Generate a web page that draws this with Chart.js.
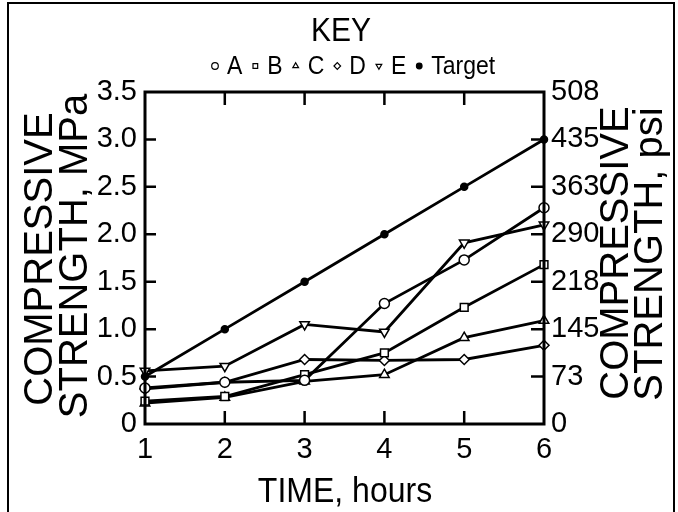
<!DOCTYPE html>
<html>
<head>
<meta charset="utf-8">
<script src="https://cdn.jsdelivr.net/npm/chart.js@4.4.1/dist/chart.umd.min.js"></script>
<style>
  html, body { margin: 0; padding: 0; background: #fff; overflow: hidden; }
  #wrap { position: relative; width: 678px; height: 512px; }
  #frame { position: absolute; left: 7px; top: 2px; width: 668px; height: 530px; border: 2px solid #000; box-sizing: border-box; }
  canvas { position: absolute; left: 0; top: 0; }
</style>
</head>
<body>
<div id="wrap">
  <div id="frame"></div>
  <canvas id="c" width="678" height="512"></canvas>
</div>
<script>
// ---- data ----
const hours = [1, 2, 3, 4, 5, 6];
const seriesA = [0.38, 0.44, 0.46, 1.27, 1.73, 2.28];
const seriesB = [0.24, 0.29, 0.52, 0.75, 1.23, 1.68];
const seriesC = [0.22, 0.28, 0.45, 0.52, 0.91, 1.09];
const seriesD = [0.37, 0.44, 0.68, 0.67, 0.68, 0.83];
const seriesE = [0.56, 0.61, 1.05, 0.97, 1.91, 2.10];
const seriesTarget = [0.5, 1.0, 1.5, 2.0, 2.5, 3.0];
const mpaTickLabels = ['0', '0.5', '1.0', '1.5', '2.0', '2.5', '3.0', '3.5'];
const psiTickLabels = ['0', '73', '145', '218', '290', '363', '435', '508'];
const seriesNames = ['A', 'B', 'C', 'D', 'E', 'Target'];

const FONT = "'Liberation Sans', Arial, sans-serif";
const NARROW = "'Liberation Sans Narrow', 'Arial Narrow', 'Liberation Sans', sans-serif";
Chart.defaults.font.family = FONT;
Chart.defaults.color = '#000';

function pts(vals) { return hours.map((h, i) => ({ x: h, y: vals[i] })); }

const styles = [
  { style: 'circle', rot: 0, fill: '#fff', r: 5 },
  { style: 'rect', rot: 0, fill: '#fff', r: 5.5 },
  { style: 'triangle', rot: 0, fill: '#fff', r: 5.5 },
  { style: 'rectRot', rot: 0, fill: '#fff', r: 5 },
  { style: 'triangle', rot: 180, fill: '#fff', r: 5.5 },
  { style: 'circle', rot: 0, fill: '#000', r: 3.5 }
];
const allSeries = [seriesA, seriesB, seriesC, seriesD, seriesE, seriesTarget];

const datasets = allSeries.map((s, i) => ({
  label: seriesNames[i],
  data: pts(s),
  borderColor: '#000',
  borderWidth: 2.8,
  backgroundColor: styles[i].fill,
  pointStyle: styles[i].style,
  rotation: styles[i].rot,
  pointRadius: styles[i].r,
  pointBorderWidth: 1.5,
  pointBorderColor: '#000',
  pointBackgroundColor: styles[i].fill,
  tension: 0,
  yAxisID: 'y',
  clip: false
}));

const deco = {
  id: 'deco',
  afterDraw(chart) {
    const ctx = chart.ctx;
    const a = chart.chartArea;
    const xs = chart.scales.x, ys = chart.scales.y;
    ctx.save();
    ctx.strokeStyle = '#000';
    ctx.fillStyle = '#000';
    // plot frame
    ctx.lineWidth = 3;
    ctx.strokeRect(a.left, a.top, a.right - a.left, a.bottom - a.top);
    // inward tick marks
    ctx.lineWidth = 2.5;
    ctx.beginPath();
    xs.ticks.forEach(t => {
      if (t.value <= xs.min || t.value >= xs.max) return;
      const px = xs.getPixelForValue(t.value);
      ctx.moveTo(px, a.bottom); ctx.lineTo(px, a.bottom - 13);
      ctx.moveTo(px, a.top); ctx.lineTo(px, a.top + 13);
    });
    ys.ticks.forEach(t => {
      if (t.value <= ys.min || t.value >= ys.max) return;
      const py = ys.getPixelForValue(t.value);
      ctx.moveTo(a.left, py); ctx.lineTo(a.left + 11, py);
      ctx.moveTo(a.right, py); ctx.lineTo(a.right - 13, py);
    });
    ctx.stroke();

    // axis titles
    ctx.textAlign = 'center';
    ctx.textBaseline = 'middle';
    ctx.font = '40px ' + FONT;
    const vtext = (txt, x, y) => {
      ctx.save(); ctx.translate(x, y); ctx.rotate(-Math.PI / 2);
      ctx.fillText(txt, 0, 0); ctx.restore();
    };
    vtext('COMPRESSIVE', 41, 259);
    vtext('STRENGTH, MPa', 76, 256);
    vtext('COMPRESSIVE', 617, 253);
    vtext('STRENGTH, psi', 651, 254);
    ctx.save();
    ctx.translate(345, 492); ctx.scale(1, 1.1);
    ctx.font = '32px ' + FONT;
    ctx.fillText('TIME, hours', 0, 0);
    ctx.restore();

    // key
    ctx.save();
    ctx.translate(341, 32); ctx.scale(1, 1.1);
    ctx.font = '30px ' + FONT;
    ctx.fillText('KEY', 0, 0);
    ctx.restore();
    ctx.font = '23px ' + FONT;
    ctx.textAlign = 'left';
    let cx = 215;
    const ly = 66;
    chart.data.datasets.forEach((ds, i) => {
      ctx.lineWidth = 1.2;
      ctx.strokeStyle = '#000';
      ctx.fillStyle = styles[i].fill;
      Chart.helpers.drawPoint(ctx, {
        pointStyle: styles[i].style,
        rotation: styles[i].rot,
        radius: i === 5 ? 2.8 : 3.3,
        borderWidth: 1.2
      }, cx, ly);
      if (i === 5) { ctx.fill(); }
      ctx.fillStyle = '#000';
      const tx = cx + 12;
      ctx.save();
      ctx.translate(tx, ly + 1); ctx.scale(1, 1.15);
      ctx.fillText(ds.label, 0, 0);
      ctx.restore();
      cx = tx + ctx.measureText(ds.label).width + 13;
    });
    ctx.restore();
  }
};

new Chart(document.getElementById('c'), {
  type: 'line',
  data: { datasets },
  options: {
    responsive: false,
    animation: false,
    events: [],
    layout: { padding: { top: 92, left: 0, right: 0, bottom: 0 } },
    plugins: { legend: { display: false }, tooltip: { enabled: false } },
    scales: {
      x: {
        type: 'linear', min: 1, max: 6,
        afterFit: s => { s.height = 88; },
        grid: { display: false, drawTicks: false },
        border: { display: false },
        ticks: {
          stepSize: 1, padding: 9,
          font: { size: 29, family: NARROW }, color: '#000',
          callback: (v) => hours.includes(v) ? String(v) : ''
        }
      },
      y: {
        type: 'linear', position: 'left', min: 0, max: 3.5,
        afterFit: s => { s.width = 145; },
        grid: { display: false, drawTicks: false },
        border: { display: false },
        ticks: {
          stepSize: 0.5, padding: 8,
          font: { size: 29, family: NARROW }, color: '#000',
          callback: (v) => mpaTickLabels[Math.round(v / 0.5)]
        }
      },
      y2: {
        type: 'linear', position: 'right', min: 0, max: 3.5,
        afterFit: s => { s.width = 134; },
        grid: { display: false, drawTicks: false },
        border: { display: false },
        ticks: {
          stepSize: 0.5, padding: 7,
          font: { size: 29, family: NARROW }, color: '#000',
          callback: (v) => psiTickLabels[Math.round(v / 0.5)]
        }
      }
    }
  },
  plugins: [deco]
});
</script>
</body>
</html>
